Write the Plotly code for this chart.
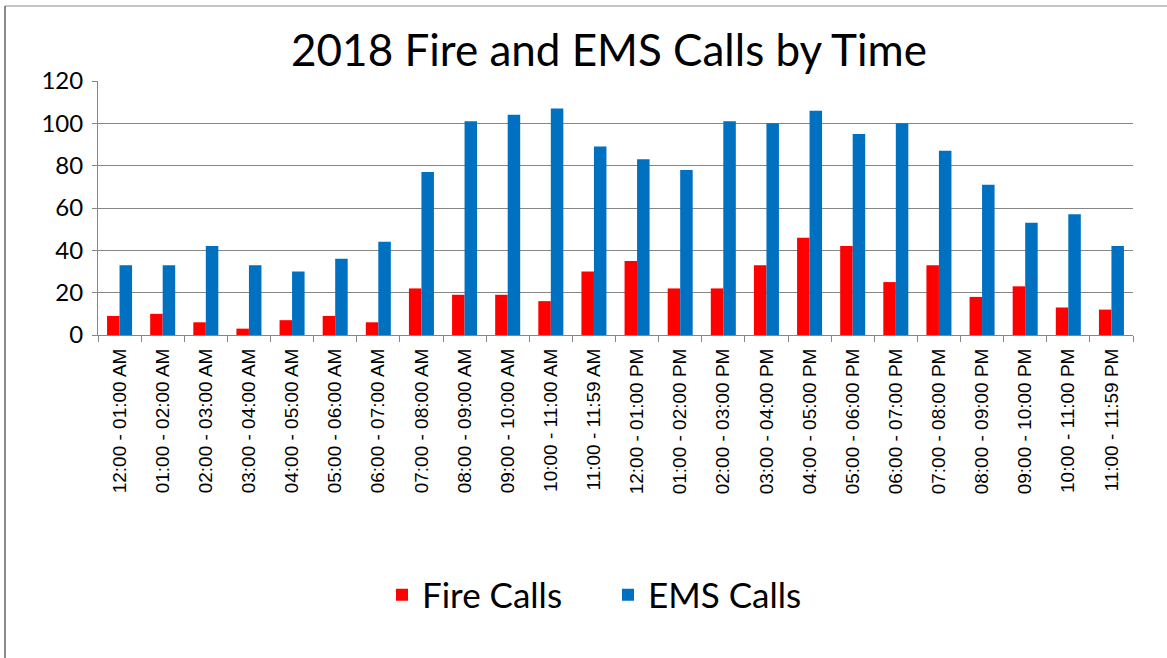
import plotly.graph_objects as go

categories = [
    "12:00 - 01:00 AM", "01:00 - 02:00 AM", "02:00 - 03:00 AM", "03:00 - 04:00 AM",
    "04:00 - 05:00 AM", "05:00 - 06:00 AM", "06:00 - 07:00 AM", "07:00 - 08:00 AM",
    "08:00 - 09:00 AM", "09:00 - 10:00 AM", "10:00 - 11:00 AM", "11:00 - 11:59 AM",
    "12:00 - 01:00 PM", "01:00 - 02:00 PM", "02:00 - 03:00 PM", "03:00 - 04:00 PM",
    "04:00 - 05:00 PM", "05:00 - 06:00 PM", "06:00 - 07:00 PM", "07:00 - 08:00 PM",
    "08:00 - 09:00 PM", "09:00 - 10:00 PM", "10:00 - 11:00 PM", "11:00 - 11:59 PM",
]
fire_calls = [9, 10, 6, 3, 7, 9, 6, 22, 19, 19, 16, 30, 35, 22, 22, 33, 46, 42, 25, 33, 18, 23, 13, 12]
ems_calls = [33, 33, 42, 33, 30, 36, 44, 77, 101, 104, 107, 89, 83, 78, 101, 100, 106, 95, 100, 87, 71, 53, 57, 42]
y_ticks = [0, 20, 40, 60, 80, 100, 120]

W, H = 1167, 658
L, R, T, B = 98, 1133, 81, 335  # plot area in pixels

fig = go.Figure()
fig.add_trace(go.Bar(x=categories, y=fire_calls, name="Fire Calls",
                     marker=dict(color="#FF0000", line=dict(width=0))))
fig.add_trace(go.Bar(x=categories, y=ems_calls, name="EMS Calls",
                     marker=dict(color="#0070C0", line=dict(width=0))))

pw = R - L
ph = B - T


def px_x(p):
    return (p - L) / pw


def px_y(p):
    return (B - p) / ph


fig.update_layout(
    width=W, height=H,
    margin=dict(l=L, r=W - R, t=T, b=H - B, pad=0),
    paper_bgcolor="white", plot_bgcolor="white",
    barmode="group", bargap=0.42, bargroupgap=0,
    title=dict(text="2018 Fire and EMS Calls by Time", x=609 / W, y=1 - 51 / H,
               xanchor="center", yanchor="middle",
               font=dict(family="Lato", size=44, color="#000000")),
    legend=dict(orientation="h", x=px_x(608), y=px_y(595), xanchor="center", yanchor="middle",
                font=dict(family="Lato", size=35, color="#000000"), itemwidth=30,
                entrywidth=181, entrywidthmode="pixels",
                traceorder="normal"),
    xaxis=dict(type="category", tickangle=-90, tickson="boundaries",
               ticks="outside", ticklen=6, tickcolor="#868686",
               showline=True, linecolor="#868686", linewidth=1,
               showgrid=False, ticklabelstandoff=5,
               tickfont=dict(family="Liberation Sans", size=19, color="#000000")),
    yaxis=dict(range=[0, 120], tickvals=y_ticks, showgrid=True, gridcolor="#868686",
               gridwidth=1, showline=True, linecolor="#868686", linewidth=1,
               ticks="outside", ticklen=5, tickcolor="#868686", zeroline=False,
               ticklabelstandoff=4,
               tickfont=dict(family="Lato", size=24, color="#000000")),
    shapes=[
        dict(type="line", xref="paper", yref="paper", x0=px_x(5), x1=px_x(5),
             y0=px_y(6), y1=px_y(H), line=dict(color="#8a8a8a", width=2)),
        dict(type="line", xref="paper", yref="paper", x0=px_x(5), x1=px_x(W),
             y0=px_y(6), y1=px_y(6), line=dict(color="#8a8a8a", width=1)),
    ],
)

fig.write_html("out.html", config={"displayModeBar": False},
               post_script="document.body.style.margin='0';")
